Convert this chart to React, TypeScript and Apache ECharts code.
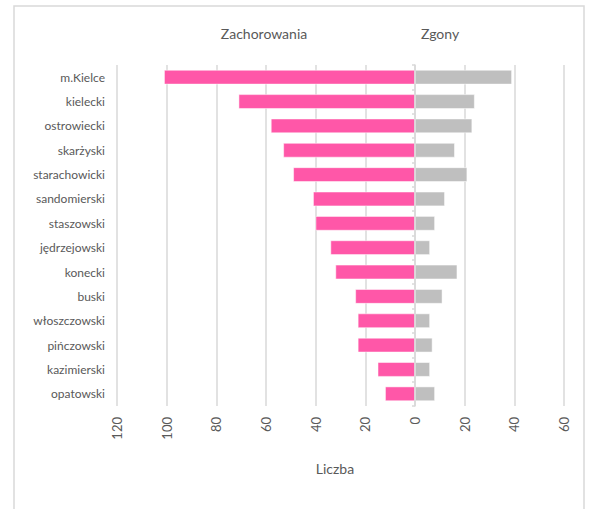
import React, { useEffect, useRef } from "react";
import * as echarts from "echarts";

const categories = [
  "m.Kielce",
  "kielecki",
  "ostrowiecki",
  "skarżyski",
  "starachowicki",
  "sandomierski",
  "staszowski",
  "jędrzejowski",
  "konecki",
  "buski",
  "włoszczowski",
  "pińczowski",
  "kazimierski",
  "opatowski",
];
const zachorowania = [101, 71, 58, 53, 49, 41, 40, 34, 32, 24, 23, 23, 15, 12];
const zgony = [39, 24, 23, 16, 21, 12, 8, 6, 17, 11, 6, 7, 6, 8];
const xMin = -120;
const xMax = 60;
const xInterval = 20;

const FONT = "Lato, 'Open Sans', sans-serif";
const TEXT = "#595959";

export default function App() {
  const ref = useRef<HTMLDivElement>(null);
  useEffect(() => {
    if (!ref.current) return;
    const chart = echarts.init(ref.current, undefined, { renderer: "svg" });
    chart.setOption({
      animation: false,
      backgroundColor: "#ffffff",
      textStyle: { fontFamily: FONT },
      grid: { left: 117, right: 29, top: 65, bottom: 103, containLabel: false },
      xAxis: {
        type: "value",
        min: xMin,
        max: xMax,
        interval: xInterval,
        axisLine: { show: false },
        axisTick: { show: false },
        splitLine: { show: true, lineStyle: { color: "#d9d9d9", width: 1.5 } },
        axisLabel: {
          rotate: 90,
          margin: 11,
          color: TEXT,
          fontSize: 13,
          fontFamily: FONT,
          formatter: (v: number) => String(Math.abs(v)),
        },
      },
      yAxis: [
        {
          type: "category",
          data: categories,
          inverse: true,
          position: "left",
          axisLine: { show: false, onZero: false },
          axisTick: { show: false },
          splitLine: { show: false },
          axisLabel: { color: TEXT, fontSize: 12, margin: 12, fontFamily: FONT },
        },
        {
          type: "category",
          data: categories,
          inverse: true,
          position: "left",
          axisLine: { show: true, onZero: true, lineStyle: { color: "#d9d9d9", width: 1.5 } },
          axisTick: { show: true, length: 3, lineStyle: { color: "#d9d9d9", width: 1.5 } },
          axisLabel: { show: false },
          splitLine: { show: false },
          z: 10,
        },
      ],
      series: [
        {
          name: "Zachorowania",
          type: "bar",
          yAxisIndex: 0,
          data: zachorowania.map((v) => -v),
          barWidth: "59%",
          barGap: "-100%",
          itemStyle: { color: "#ff57a8", borderColor: "#ffffff", borderWidth: 0.5 },
        },
        {
          name: "Zgony",
          type: "bar",
          yAxisIndex: 0,
          data: zgony,
          barWidth: "59%",
          barGap: "-100%",
          itemStyle: { color: "#bfbfbf", borderColor: "#ffffff", borderWidth: 0.5 },
        },
      ],
      graphic: [
        {
          type: "rect",
          shape: { x: 14, y: 6, width: 570, height: 520 },
          style: { fill: "none", stroke: "#d9d9d9", lineWidth: 1.5 },
          silent: true,
        },
        {
          type: "text",
          x: 264,
          y: 33,
          style: {
            text: "Zachorowania",
            fill: TEXT,
            font: `14px ${FONT}`,
            textAlign: "center",
            textVerticalAlign: "middle",
          },
        },
        {
          type: "text",
          x: 440,
          y: 33,
          style: {
            text: "Zgony",
            fill: TEXT,
            font: `14px ${FONT}`,
            textAlign: "center",
            textVerticalAlign: "middle",
          },
        },
        {
          type: "text",
          x: 335,
          y: 468,
          style: {
            text: "Liczba",
            fill: TEXT,
            font: `14px ${FONT}`,
            textAlign: "center",
            textVerticalAlign: "middle",
          },
        },
      ],
    });
    return () => chart.dispose();
  }, []);
  return (
    <div
      ref={ref}
      style={{ position: "fixed", left: 0, top: 0, width: 593, height: 509 }}
    />
  );
}
